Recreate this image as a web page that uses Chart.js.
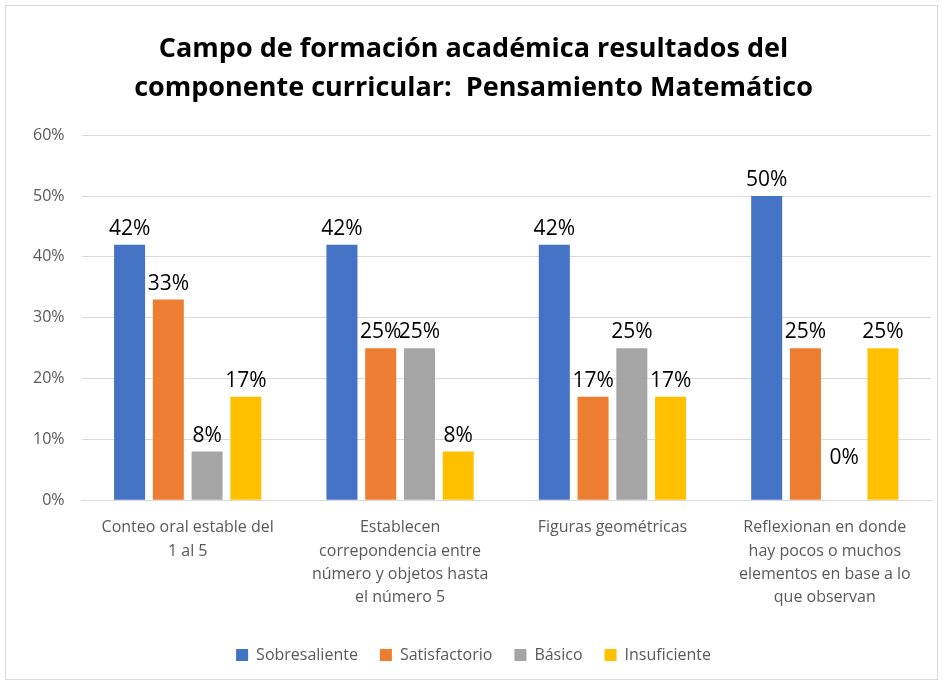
<!DOCTYPE html>
<html>
<head>
<meta charset="utf-8">
<script src="https://cdn.jsdelivr.net/npm/chart.js@4/dist/chart.umd.min.js"></script>
<style>
  html, body { margin: 0; padding: 0; background: #fff; }
  #wrap { width: 943px; height: 685px; position: relative; }
</style>
</head>
<body>
<div id="wrap"><canvas id="chart"></canvas></div>
<script>
const categories = [
    ['Conteo oral estable del', '1 al 5'],
    ['Establecen', 'correpondencia entre', 'número y objetos hasta', 'el número 5'],
    ['Figuras geométricas'],
    ['Reflexionan en donde', 'hay pocos o muchos', 'elementos en base a lo', 'que observan']
];
const sobresaliente = [42, 42, 42, 50];
const satisfactorio = [33, 25, 17, 25];
const basico = [8, 25, 25, 0];
const insuficiente = [17, 8, 17, 25];
const titleLines = ['Campo de formación académica resultados del', 'componente curricular:  Pensamiento Matemático'];

const FONT = "'Open Sans', 'Noto Sans', sans-serif";

// borde gris alrededor del gráfico
const frame = {
    id: 'frame',
    beforeDraw(chart) {
        const c = chart.ctx;
        c.save();
        c.fillStyle = '#fff';
        c.fillRect(0, 0, chart.width, chart.height);
        c.strokeStyle = '#d9d9d9';
        c.lineWidth = 1;
        c.strokeRect(5.5, 5.5, chart.width - 11, chart.height - 11);
        c.restore();
    }
};

// etiquetas de valor sobre las barras
const valueLabels = {
    id: 'valueLabels',
    afterDatasetsDraw(chart) {
        const c = chart.ctx;
        c.save();
        c.font = '21px ' + FONT;
        c.fillStyle = '#000';
        c.textAlign = 'center';
        c.textBaseline = 'alphabetic';
        chart.data.datasets.forEach((ds, i) => {
            chart.getDatasetMeta(i).data.forEach((bar, j) => {
                const v = ds.data[j];
                const y = v === 0 ? bar.y - 36 : bar.y - 10;
                c.fillText(v + '%', bar.x, y);
            });
        });
        c.restore();
    }
};

new Chart(document.getElementById('chart'), {
    type: 'bar',
    data: {
        labels: categories,
        datasets: [
            {label: 'Sobresaliente', data: sobresaliente, backgroundColor: '#4472c4'},
            {label: 'Satisfactorio', data: satisfactorio, backgroundColor: '#ed7d31'},
            {label: 'Básico', data: basico, backgroundColor: '#a5a5a5'},
            {label: 'Insuficiente', data: insuficiente, backgroundColor: '#ffc000'}
        ]
    },
    options: {
        responsive: true,
        maintainAspectRatio: false,
        animation: false,
        categoryPercentage: 0.73,
        barPercentage: 0.8,
        layout: {padding: {left: 16, right: 12, top: 10, bottom: 12}},
        plugins: {
            title: {
                display: true,
                text: titleLines,
                color: '#000',
                font: {family: FONT, size: 27, weight: 'bold', lineHeight: 1.45},
                padding: {top: 20, bottom: 27}
            },
            legend: {
                position: 'bottom',
                labels: {
                    color: '#595959',
                    font: {family: FONT, size: 16},
                    boxWidth: 12,
                    boxHeight: 12,
                    padding: 22
                }
            },
            tooltip: {enabled: false}
        },
        scales: {
            x: {
                grid: {display: false},
                border: {color: '#d9d9d9'},
                afterFit(scale) { scale.height += 8; },
                ticks: {
                    color: '#595959',
                    font: {family: FONT, size: 16, lineHeight: 1.45},
                    padding: 8,
                    maxRotation: 0,
                    autoSkip: false
                }
            },
            y: {
                min: 0,
                max: 60,
                grid: {color: '#d9d9d9', drawTicks: false},
                border: {display: false},
                ticks: {
                    stepSize: 10,
                    padding: 17,
                    color: '#595959',
                    font: {family: FONT, size: 16},
                    callback: v => v + '%'
                }
            }
        }
    },
    plugins: [frame, valueLabels]
});
</script>
</body>
</html>
